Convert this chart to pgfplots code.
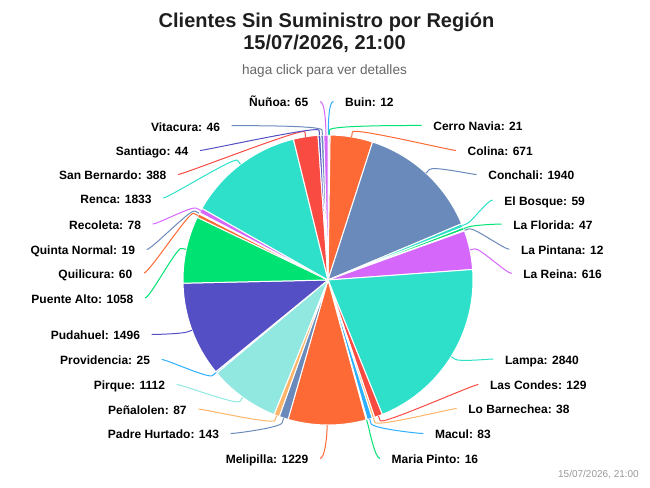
\documentclass[border=0pt]{standalone}
\usepackage{fontspec}
\setmainfont{Liberation Sans}
\usepackage{pgfplots}
\pgfplotsset{compat=1.18}
\definecolor{hcBlue}{HTML}{2CAFFE}
\definecolor{hcIndigo}{HTML}{544FC5}
\definecolor{hcGreen}{HTML}{00E272}
\definecolor{hcOrange}{HTML}{FE6A35}
\definecolor{hcSlate}{HTML}{6B8ABC}
\definecolor{hcViolet}{HTML}{D568FB}
\definecolor{hcTeal}{HTML}{2EE0CA}
\definecolor{hcRed}{HTML}{FA4B42}
\definecolor{hcPeach}{HTML}{FEB56A}
\definecolor{hcAqua}{HTML}{91E8E1}
\definecolor{titlegray}{HTML}{1E1E1E}
\definecolor{subgray}{HTML}{666666}
\definecolor{credgray}{HTML}{999999}
\tikzset{lbl/.style={font=\fontsize{12bp}{14bp}\selectfont\bfseries, text=black,
  text height=8.6bp, text depth=0pt, inner sep=0pt}}
% pie centre and radius (in picture units)
\def\cx{328}\def\cy{280}\def\rr{145}
\def\total{14167}
\gdef\cum{0}
% \slice{value}{colour}{name}{connector x}{connector y}{side: -1 left, 1 right}
\newcommand\slice[6]{%
  \pgfmathsetmacro\angA{\cum/\total*360}%
  \pgfmathsetmacro\newcum{\cum+#1}%
  \xdef\cum{\newcum}%
  \pgfmathsetmacro\angB{\cum/\total*360}%
  \pgfmathsetmacro\angM{(\angA+\angB)/2}%
  \pgfmathtruncatemacro\ns{max(3,ceil((\angB-\angA)/1.5)+1)}%
  \pgfmathsetmacro\pox{\cx+\rr*sin(\angM)}%
  \pgfmathsetmacro\poy{\cy-\rr*cos(\angM)}%
  \pgfmathsetmacro\bax{\cx+(\rr+5)*sin(\angM)}%
  \pgfmathsetmacro\bay{\cy-(\rr+5)*cos(\angM)}%
  \pgfmathsetmacro\ctx{\cx+(\rr+10)*sin(\angM)}%
  \pgfmathsetmacro\cty{\cy-(\rr+10)*cos(\angM)}%
  \pgfmathsetmacro\cax{#4-5*#6}%
  \pgfmathsetmacro\tx{#4+11.5*#6}%
  \pgfmathsetmacro\ty{#5+1}%
  \edef\anch{\ifnum#6<0 east\else west\fi}%
  \edef\temp{%
    \noexpand\addplot[fill=#2, draw=white, line width=1bp, line join=round,
      domain=\angA:\angB, samples=\ns]
      ({\cx+\rr*sin(x)},{\cy-\rr*cos(x)}) -- (axis cs:\cx,\cy) -- cycle;
    \noexpand\draw[#2, line width=1bp] (axis cs:#4,#5) .. controls (axis cs:\cax,#5) and (axis cs:\ctx,\cty) .. (axis cs:\bax,\bay) -- (axis cs:\pox,\poy);
    \noexpand\node[lbl, anchor=\anch] at (axis cs:\tx,\ty) {#3: #1};
  }%
  \temp
}
\begin{document}
\begin{tikzpicture}
\begin{axis}[
  scale only axis, width=650bp, height=487bp,
  xmin=0, xmax=650, ymin=0, ymax=487, y dir=reverse,
  hide axis, clip=false,
]
\path (axis cs:0,0) rectangle (axis cs:650,487);
\slice{12}{hcBlue}{Buin}{333.5}{101.5}{1}
\slice{21}{hcGreen}{Cerro Navia}{421.7}{125.5}{1}
\slice{671}{hcOrange}{Colina}{456}{150.5}{1}
\slice{1940}{hcSlate}{Conchali}{476.7}{174.5}{1}
\slice{59}{hcTeal}{El Bosque}{492.7}{200}{1}
\slice{47}{hcGreen}{La Florida}{501.7}{224}{1}
\slice{12}{hcSlate}{La Pintana}{509.3}{249.3}{1}
\slice{616}{hcViolet}{La Reina}{511.7}{273.5}{1}
\slice{2840}{hcTeal}{Lampa}{493.3}{359}{1}
\slice{129}{hcRed}{Las Condes}{478.3}{384.5}{1}
\slice{38}{hcPeach}{Lo Barnechea}{456.7}{408.5}{1}
\slice{83}{hcBlue}{Macul}{423.3}{433.5}{1}
\slice{16}{hcGreen}{Maria Pinto}{380}{458.5}{1}
\slice{1229}{hcOrange}{Melipilla}{320}{458.5}{-1}
\slice{143}{hcSlate}{Padre Hurtado}{230.7}{433.5}{-1}
\slice{87}{hcPeach}{Peñalolen}{198.3}{409}{-1}
\slice{1112}{hcAqua}{Pirque}{176.7}{384.5}{-1}
\slice{25}{hcBlue}{Providencia}{161.7}{359.5}{-1}
\slice{1496}{hcIndigo}{Pudahuel}{151.7}{334.5}{-1}
\slice{1058}{hcGreen}{Puente Alto}{145}{298}{-1}
\slice{60}{hcOrange}{Quilicura}{144}{273}{-1}
\slice{19}{hcSlate}{Quinta Normal}{146.7}{249.5}{-1}
\slice{78}{hcViolet}{Recoleta}{152.7}{224}{-1}
\slice{1833}{hcTeal}{Renca}{163.3}{198}{-1}
\slice{388}{hcRed}{San Bernardo}{178}{174.5}{-1}
\slice{44}{hcIndigo}{Santiago}{200}{150.5}{-1}
\slice{46}{hcSlate}{Vitacura}{231.7}{125.7}{-1}
\slice{65}{hcViolet}{Ñuñoa}{320}{101.5}{-1}
\node[anchor=base, inner sep=0pt, text=titlegray, font=\fontsize{20bp}{24bp}\selectfont\bfseries] at (axis cs:326.5,27.3) {Clientes Sin Suministro por Región};
\node[anchor=base, inner sep=0pt, text=titlegray, font=\fontsize{20bp}{24bp}\selectfont\bfseries] at (axis cs:324.5,49.5) {15/07/2026, 21:00};
\node[anchor=base, inner sep=0pt, text=subgray, font=\fontsize{13.6bp}{16bp}\selectfont] at (axis cs:324.5,74.5) {haga click para ver detalles};
\node[anchor=base east, inner sep=0pt, text=credgray, font=\fontsize{10bp}{12bp}\selectfont] at (axis cs:639,477.5) {15/07/2026, 21:00};
\end{axis}
\end{tikzpicture}
\end{document}
